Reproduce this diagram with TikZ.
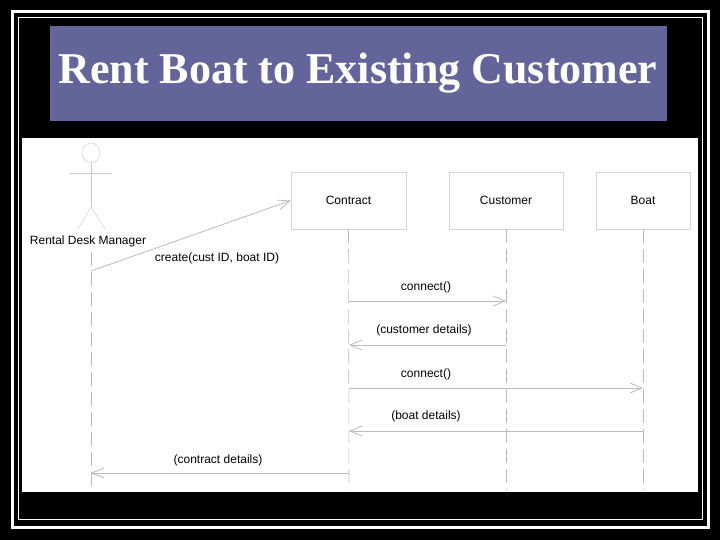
\documentclass[tikz,border=0pt]{standalone}
\usepackage{fontspec}
\setmainfont{Liberation Sans}
\newfontfamily\titlefont{Liberation Serif}
\usetikzlibrary{arrows.meta}
\definecolor{titlebg}{HTML}{63659A}
\definecolor{ln}{HTML}{BBBBBB}
\tikzset{
  obj/.style={draw=ln!60,line width=0.5pt,fill=white,minimum width=#1,minimum height=57pt,inner sep=0pt,font=\fontsize{12}{13}\selectfont},
  life/.style={draw=ln,dash pattern=on 14pt off 6pt,line width=0.6pt},
  msg/.style={draw=ln,line width=0.8pt,-{Straight Barb[length=12pt,width=10pt]}},
  lbl/.style={font=\fontsize{12}{13}\selectfont,inner sep=1pt},
}
\begin{document}
\begin{tikzpicture}[x=1pt,y=-1pt]
\fill[black] (0,0) rectangle (720,540);
\useasboundingbox (0,0) rectangle (720,540);
\draw[white,line width=3pt] (12,12) rectangle (708,527);
\draw[white,line width=1pt] (18,18) rectangle (702,519);
\fill[titlebg] (50,26) rectangle (667,121);
\node (title) [font=\titlefont\bfseries\fontsize{44}{46}\selectfont,text=white] at (358,73) {Rent Boat to Existing Customer};
\fill[white] (22,138) rectangle (698,492);
% actor
\draw[ln!80] (91,153) ellipse (9 and 10);
\draw[ln!80] (70,173) -- (112,173);
\draw[ln!80] (91,163) -- (91,207) coordinate (hip);
\draw[ln!80] (78,229) -- (hip) -- (105,229);
\node (actor) [lbl] at (88,241) {Rental Desk Manager};
% objects
\node (contract) [obj=115pt] at (348.5,200.5) {Contract};
\node (customer) [obj=114pt] at (506,200.5) {Customer};
\node (boat) [obj=94pt] at (643,200.5) {Boat};
\coordinate (a0) at (91,252); \coordinate (a1) at (91,490);
\coordinate (c1) at (349,490); \coordinate (u1) at (506,490); \coordinate (b1) at (643,490);
\draw[life] (a0) -- (a1);
\draw[life] (contract.south) -- (c1);
\draw[life] (customer.south) -- (u1);
\draw[life] (boat.south) -- (b1);
% messages
\coordinate (m0) at (91,271);
\draw[msg] (m0) -- (contract.west);
\node[lbl] at (217,258) {create(cust ID, boat ID)};
\coordinate (m1a) at (349,301); \coordinate (m1b) at (506,301);
\draw[msg] (m1a) -- (m1b);
\node[lbl] at (426,287) {connect()};
\coordinate (m2a) at (506,345); \coordinate (m2b) at (349,345);
\draw[msg] (m2a) -- (m2b);
\node[lbl] at (424,330) {(customer details)};
\coordinate (m3a) at (349,388); \coordinate (m3b) at (643,388);
\draw[msg] (m3a) -- (m3b);
\node[lbl] at (426,374) {connect()};
\coordinate (m4a) at (643,431); \coordinate (m4b) at (349,431);
\draw[msg] (m4a) -- (m4b);
\node[lbl] at (426,416) {(boat details)};
\coordinate (m5a) at (349,473); \coordinate (m5b) at (91,473);
\draw[msg] (m5a) -- (m5b);
\node[lbl] at (218,460) {(contract details)};
\end{tikzpicture}
\end{document}
